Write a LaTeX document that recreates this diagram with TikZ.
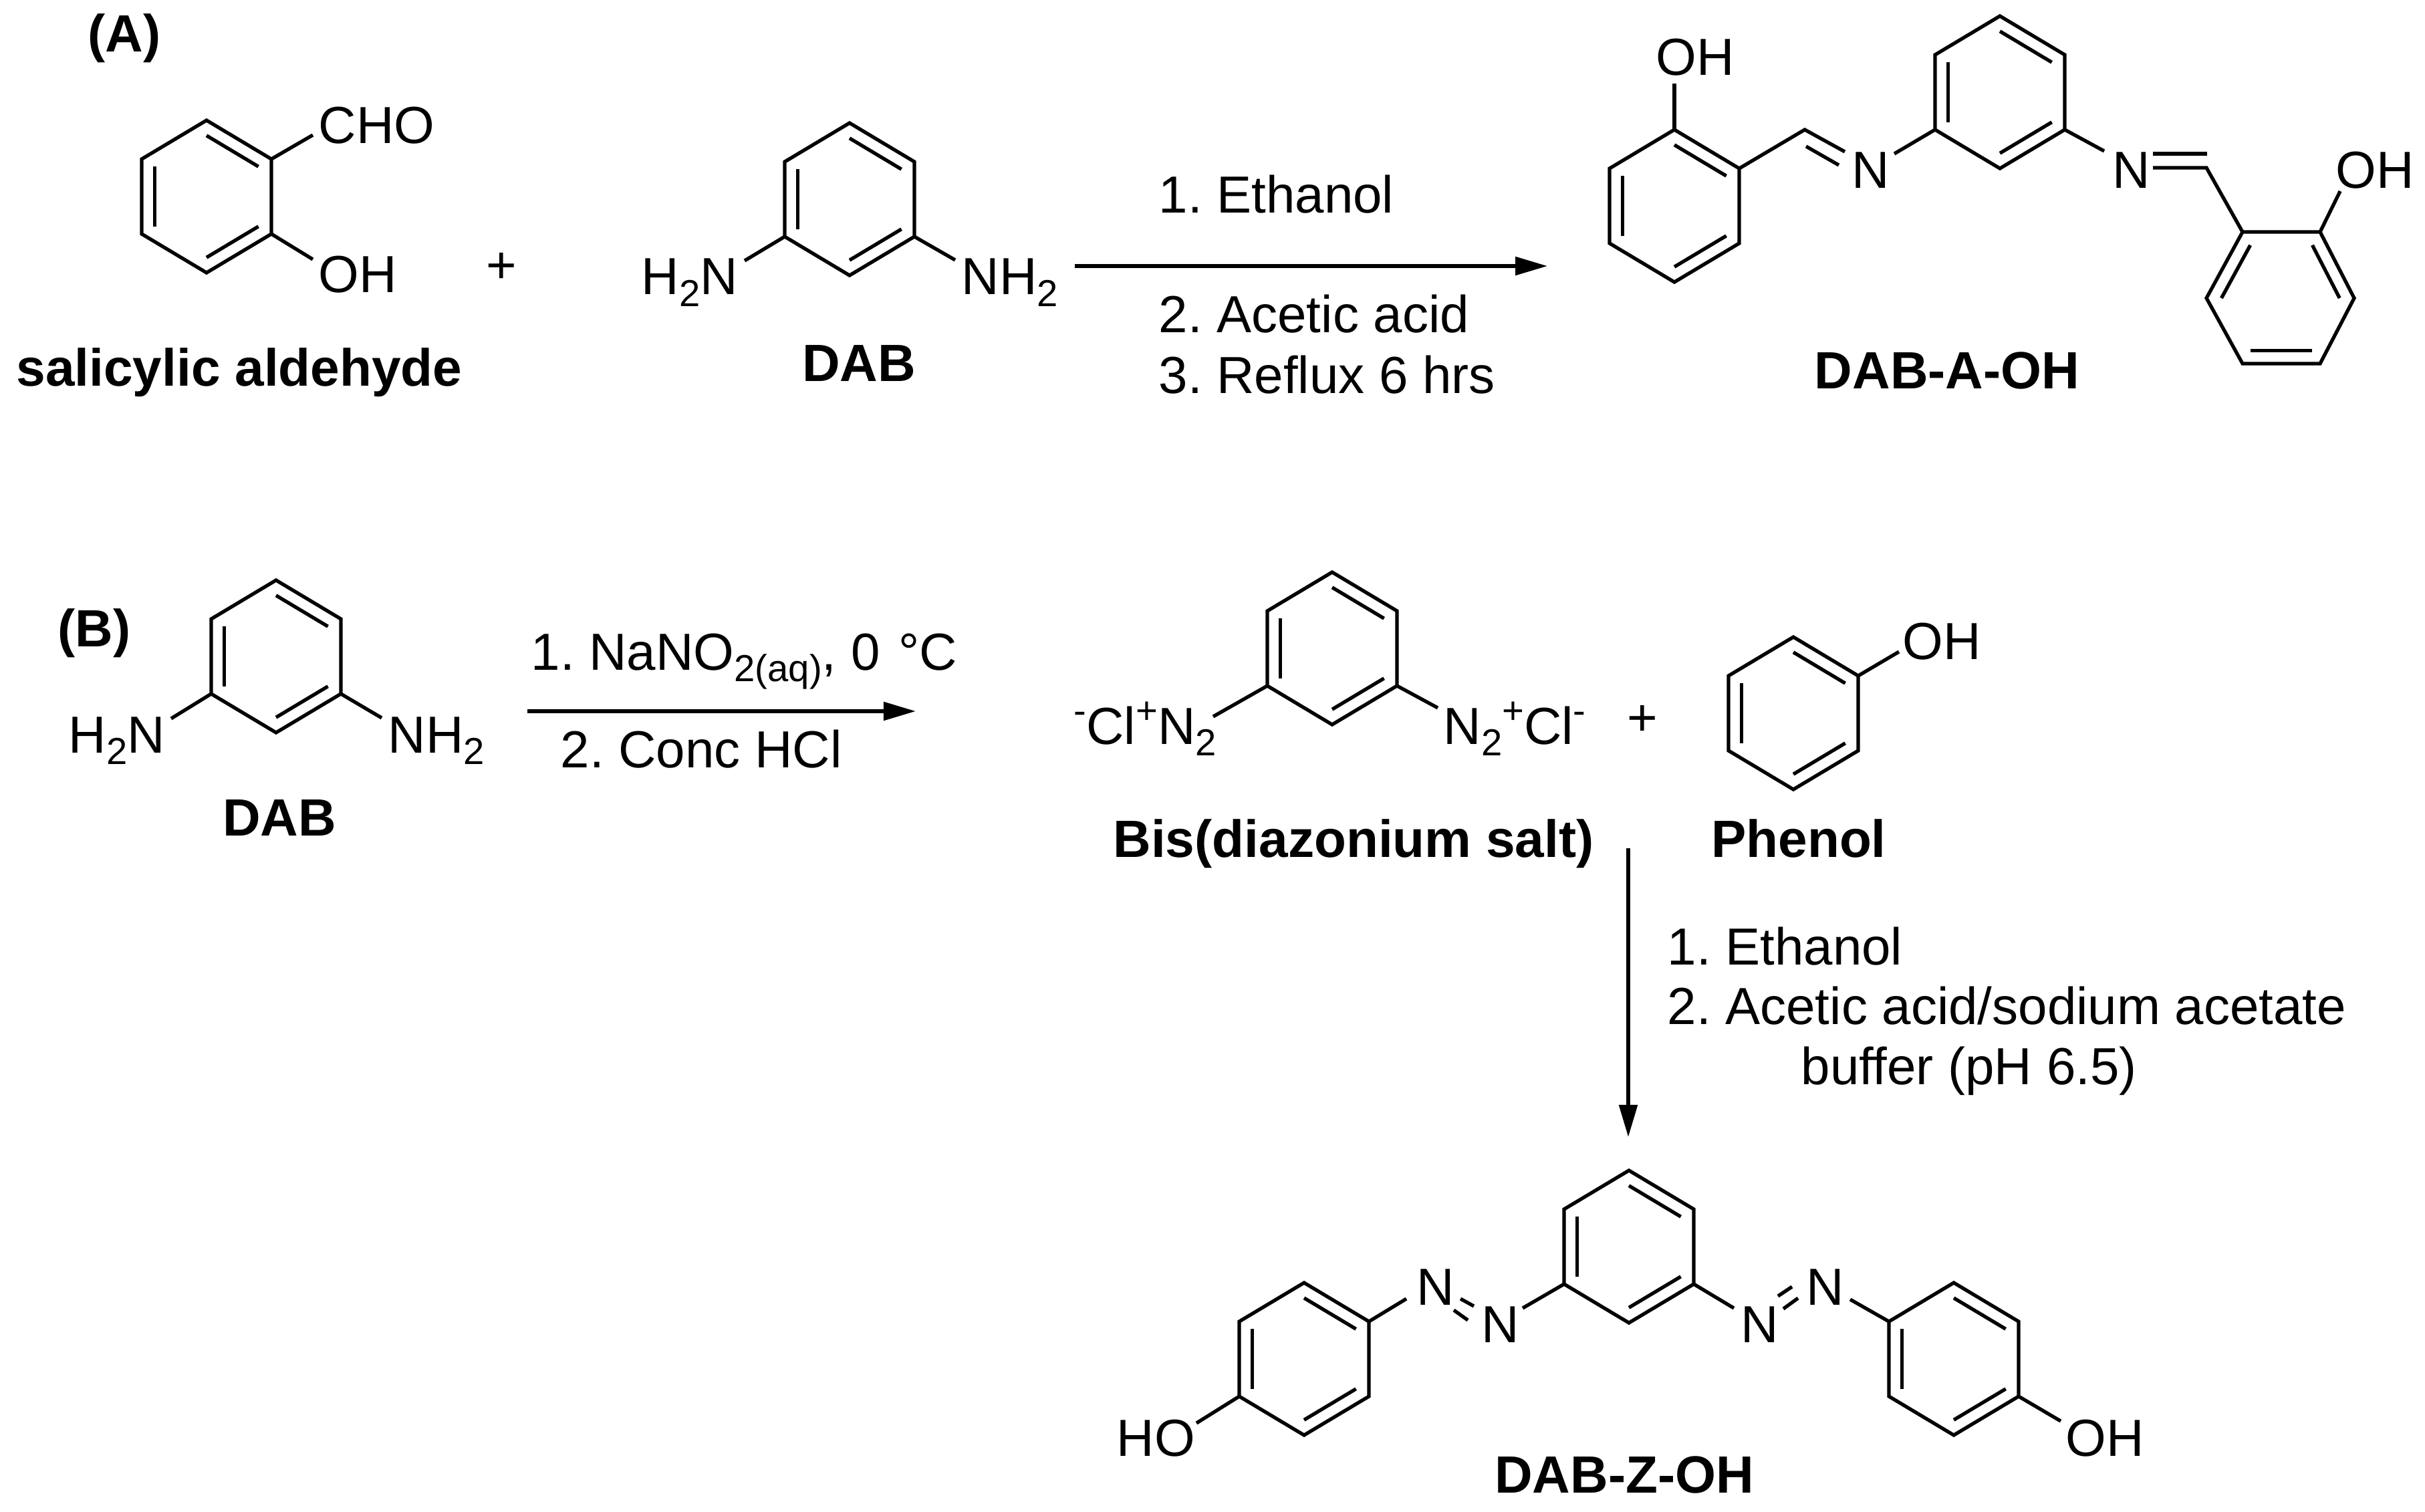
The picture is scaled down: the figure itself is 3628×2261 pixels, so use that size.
\documentclass[tikz,border=0pt]{standalone}
\usepackage{fontspec}
\setmainfont{Liberation Sans}
\usetikzlibrary{arrows.meta,calc}
\frenchspacing
\tikzset{
    bond/.style={line width=1.5pt},
    rxnarrow/.style={line width=1.5pt, -{Triangle[length=.48cm,width=.27cm]}},
    atom/.style={anchor=base west, inner sep=0pt, font=\fontsize{22.2}{26}\selectfont},
    title/.style={anchor=base, inner sep=0pt, font=\fontsize{22.3}{26}\selectfont\bfseries},
    plus/.style={anchor=center, inner sep=0pt, font=\fontsize{22.2}{26}\selectfont}
}
\newcommand{\lowr}[1]{\raisebox{-.17cm}{\fontsize{16}{16}\selectfont #1}}
\newcommand{\highr}[1]{\raisebox{.3cm}{\fontsize{16}{16}\selectfont #1}}
\newcommand{\ringlines}[1]{%
    \draw[bond] (#1a) -- (#1b) -- (#1c) -- (#1d) -- (#1e) -- (#1f) -- cycle;
    \draw[bond] ($(#1o)!.8!(#1a)$) -- ($(#1o)!.8!(#1b)$);
    \draw[bond] ($(#1o)!.8!(#1c)$) -- ($(#1o)!.8!(#1d)$);
    \draw[bond] ($(#1o)!.8!(#1e)$) -- ($(#1o)!.8!(#1f)$);
}
\newcommand{\benzring}[3]{%
    \coordinate (#1o) at (#2,#3);
    \coordinate (#1a) at (#2,#3-114);
    \coordinate (#1b) at (#2+97,#3-56);
    \coordinate (#1c) at (#2+97,#3+56);
    \coordinate (#1d) at (#2,#3+114);
    \coordinate (#1e) at (#2-97,#3+56);
    \coordinate (#1f) at (#2-97,#3-56);
    \ringlines{#1}
}
\begin{document}
\begin{tikzpicture}[x=0.01cm, y=-0.01cm]
    \useasboundingbox (0,0) rectangle (3628,2261);

    \node[title] (labelA) at (186,78) {(A)};
    \benzring{sal}{309}{294}
    \node[atom] (cho) at (476,215) {CHO};
    \node[atom] (salOH) at (476,437) {OH};
    \coordinate (choEnd) at (468,202);
    \coordinate (salOHEnd) at (468,388);
    \draw[bond] (salb) -- (choEnd);
    \draw[bond] (salc) -- (salOHEnd);
    \node[title] (salName) at (358,577) {salicylic aldehyde};
    \node[plus] (plusA) at (750,401) {+};

    \benzring{dabA}{1271}{298}
    \node[atom] (dabALeft) at (959,441) {H\lowr{2}N};
    \node[atom] (dabARight) at (1438,441) {NH\lowr{2}};
    \coordinate (dabALeftEnd) at (1114,390);
    \coordinate (dabARightEnd) at (1429,389);
    \draw[bond] (dabAe) -- (dabALeftEnd);
    \draw[bond] (dabAc) -- (dabARightEnd);
    \node[title] (dabAName) at (1285,570) {DAB};

    \coordinate (arrowAStart) at (1608,398);
    \coordinate (arrowAEnd) at (2315,398);
    \draw[rxnarrow] (arrowAStart) -- (arrowAEnd);
    \node[atom] (condA1) at (1733,319) {1. Ethanol};
    \node[atom] (condA2) at (1733,498) {2. Acetic acid};
    \node[atom] (condA3) at (1733,588) {3. Reflux 6 hrs};

    \benzring{imL}{2505}{308}
    \benzring{imC}{2992}{138}
    \coordinate (imRo) at (3413,446);
    \coordinate (imRa) at (3471,347);
    \coordinate (imRb) at (3522,446);
    \coordinate (imRc) at (3471,544);
    \coordinate (imRd) at (3355,544);
    \coordinate (imRe) at (3301,446);
    \coordinate (imRf) at (3355,347);
    \ringlines{imR}
    \node[atom] (imLOH) at (2477,113) {OH};
    \node[atom] (imN1) at (2770,282) {N};
    \node[atom] (imN2) at (3160,282) {N};
    \node[atom] (imROH) at (3494,282) {OH};
    \coordinate (imLOHEnd) at (2505,125);
    \coordinate (ch1) at (2700,194);
    \coordinate (ch1a) at (2760,227);
    \coordinate (ch1b) at (2702,219);
    \coordinate (ch1c) at (2751,247);
    \coordinate (imN1End) at (2834,230);
    \coordinate (imN2End) at (3148,226);
    \coordinate (ch2a) at (3221,230);
    \coordinate (ch2b) at (3302,230);
    \coordinate (ch2c) at (3221,251);
    \coordinate (ch2) at (3301,251);
    \coordinate (imROHEnd) at (3501,286);
    \draw[bond] (imLa) -- (imLOHEnd);
    \draw[bond] (imLb) -- (ch1) -- (ch1a);
    \draw[bond] (ch1b) -- (ch1c);
    \draw[bond] (imN1End) -- (imCe);
    \draw[bond] (imCc) -- (imN2End);
    \draw[bond] (ch2a) -- (ch2b);
    \draw[bond] (ch2c) -- (ch2) -- (imRf);
    \draw[bond] (imRa) -- (imROHEnd);
    \node[title] (imName) at (2913,581) {DAB-A-OH};

    \node[title] (labelB) at (141,967) {(B)};
    \benzring{dabB}{413}{982}
    \node[atom] (dabBLeft) at (102,1126) {H\lowr{2}N};
    \node[atom] (dabBRight) at (580,1126) {NH\lowr{2}};
    \coordinate (dabBLeftEnd) at (256,1075);
    \coordinate (dabBRightEnd) at (571,1074);
    \draw[bond] (dabBe) -- (dabBLeftEnd);
    \draw[bond] (dabBc) -- (dabBRightEnd);
    \node[title] (dabBName) at (418,1250) {DAB};

    \coordinate (arrowBStart) at (789,1064);
    \coordinate (arrowBEnd) at (1370,1064);
    \draw[rxnarrow] (arrowBStart) -- (arrowBEnd);
    \node[atom] (condB1) at (794,1002) {1. NaNO\lowr{2(aq)}, 0\hspace{.06cm} °C};
    \node[atom] (condB2) at (838,1148) {2. Conc HCl};

    \benzring{salt}{1993}{970}
    \node[atom] (saltLeft) at (1606,1113) {\highr{-}Cl\highr{+}N\lowr{2}};
    \node[atom] (saltRight) at (2159,1113) {N\lowr{2}\highr{+}Cl\highr{-}};
    \coordinate (saltLeftEnd) at (1815,1072);
    \coordinate (saltRightEnd) at (2151,1059);
    \draw[bond] (salte) -- (saltLeftEnd);
    \draw[bond] (saltc) -- (saltRightEnd);
    \node[title] (saltName) at (2025,1282) {Bis(diazonium salt)};
    \node[plus] (plusB) at (2457,1078) {+};

    \benzring{phe}{2683}{1067}
    \node[atom] (pheOH) at (2846,986) {OH};
    \coordinate (pheOHEnd) at (2841,975);
    \draw[bond] (pheb) -- (pheOHEnd);
    \node[title] (pheName) at (2691,1282) {Phenol};

    \coordinate (arrowCStart) at (2436,1269);
    \coordinate (arrowCEnd) at (2436,1701);
    \draw[rxnarrow] (arrowCStart) -- (arrowCEnd);
    \node[atom] (condC1) at (2494,1443) {1. Ethanol};
    \node[atom] (condC2) at (2494,1532) {2. Acetic acid/sodium acetate};
    \node[atom] (condC3) at (2694,1622) {buffer (pH 6.5)};

    \benzring{azC}{2437}{1865}
    \benzring{azL}{1951}{2033}
    \benzring{azR}{2923}{2033}
    \node[atom] (azN1) at (2119,1952) {N};
    \node[atom] (azN2) at (2216,2008) {N};
    \node[atom] (azN3) at (2604,2008) {N};
    \node[atom] (azN4) at (2702,1952) {N};
    \node[atom] (azLOH) at (1670,2178) {HO};
    \node[atom] (azROH) at (3090,2178) {OH};
    \coordinate (azN1End) at (2104,1943);
    \coordinate (azN2End) at (2278,1957);
    \coordinate (azN3End) at (2594,1957);
    \coordinate (azN4End) at (2768,1944);
    \coordinate (az1a) at (2185,1943);
    \coordinate (az1b) at (2205,1954);
    \coordinate (az1c) at (2175,1960);
    \coordinate (az1d) at (2196,1975);
    \coordinate (az2a) at (2681,1925);
    \coordinate (az2b) at (2660,1939);
    \coordinate (az2c) at (2690,1942);
    \coordinate (az2d) at (2668,1958);
    \coordinate (azLOHEnd) at (1790,2129);
    \coordinate (azROHEnd) at (3083,2126);
    \draw[bond] (azLb) -- (azN1End);
    \draw[bond] (azN2End) -- (azCe);
    \draw[bond] (azCc) -- (azN3End);
    \draw[bond] (azN4End) -- (azRf);
    \draw[bond] (az1a) -- (az1b);
    \draw[bond] (az1c) -- (az1d);
    \draw[bond] (az2a) -- (az2b);
    \draw[bond] (az2c) -- (az2d);
    \draw[bond] (azLe) -- (azLOHEnd);
    \draw[bond] (azRc) -- (azROHEnd);
    \node[title] (azName) at (2430,2233) {DAB-Z-OH};
\end{tikzpicture}
\end{document}
